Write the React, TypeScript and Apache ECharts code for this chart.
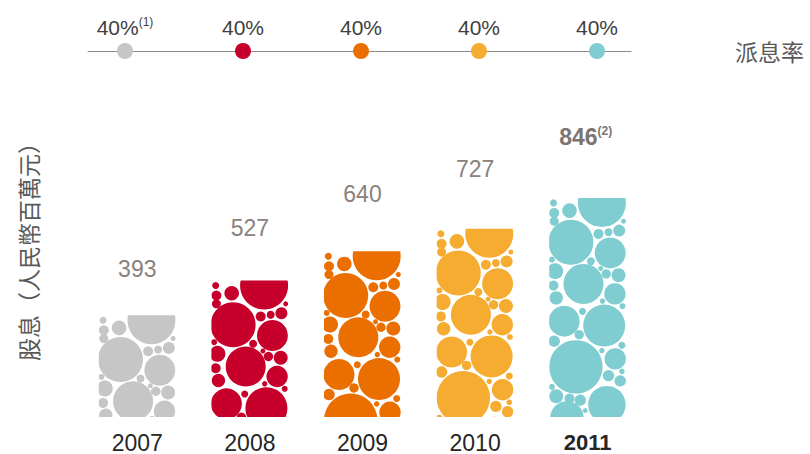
import React, { useEffect, useRef } from 'react';
import * as echarts from 'echarts';

// ---- data ----
const years = ['2007', '2008', '2009', '2010', '2011'];
const dividends = [393, 527, 640, 727, 846];
const payoutRatio = [40, 40, 40, 40, 40];
const payoutNotes = ['(1)', '', '', '', ''];
const dividendNotes = ['', '', '', '', '(2)'];
const highlightIndex = 4;

// ---- styles ----
const barColors = ['#c6c6c6', '#c7002b', '#eb6e00', '#f5ac30', '#80cdd1'];
const labelGaps = [46, 53, 57, 60, 61];
const BAR_W = 77;
const LATIN = '"Liberation Sans", Arial, Helvetica, sans-serif';
const CJK = '"Noto Sans CJK TC", "Noto Sans CJK SC", sans-serif';

// decorative bubble texture, relative to a bar's top-left corner: [cx, cy, r]
const BUBBLES: number[][] = [
  [52.7, 5, 24], [21.7, 44.3, 22.5], [61, 55, 15.5], [34.3, 86, 20], [65.7, 96, 10.7],
  [15, 123.3, 15.5], [55, 127.7, 21], [26.7, 169, 26.7], [66, 161, 10.7],
  [57.7, 206.7, 18.7], [17.7, 220, 16.7],
  [5, 15, 5], [20.3, 12.7, 7.3], [4.3, 5, 3.5], [5, 23.3, 4.5], [49.3, 36, 5],
  [59.3, 34.3, 4], [70, 32.7, 6], [74.3, 23.3, 2.5], [2.7, 61.7, 3], [6, 73.3, 8],
  [4.3, 87.7, 5], [7, 100, 6.7], [41.7, 63.3, 4], [69.3, 77.3, 7], [57, 76, 4.7],
  [51.5, 70.5, 2.5], [73.3, 108.3, 3], [53.3, 103.3, 2.7], [33.3, 113.5, 3.5],
  [30, 136.7, 4.7], [5, 143.3, 5.7], [72.7, 147.3, 3.5], [52.7, 152.7, 2.7],
  [59.3, 177.7, 5.7], [71, 183, 5.7], [72.7, 173.5, 2.8], [2.7, 189, 3],
  [7, 198.3, 7], [20.3, 200.7, 5], [31, 202.3, 5.7], [36, 212.7, 2.5],
];

export default function App() {
  const ref = useRef<HTMLDivElement>(null);

  useEffect(() => {
    if (!ref.current) return;
    document.body.style.margin = '0';
    const chart = echarts.init(ref.current, null, { renderer: 'svg' });

    const option: any = {
      animation: false,
      grid: [
        { left: 81, right: 166, top: 158, bottom: 34 },
        { left: 88, right: 179, top: 51, height: 20 },
      ],
      xAxis: [
        {
          type: 'category',
          gridIndex: 0,
          data: years,
          axisLine: { show: false },
          axisTick: { show: false },
          axisLabel: {
            margin: 14,
            formatter: (val: string, idx: number) =>
              idx === highlightIndex ? `{b|${val}}` : `{n|${val}}`,
            rich: {
              n: { fontSize: 23, color: '#262626', fontFamily: LATIN },
              b: { fontSize: 22, color: '#262626', fontFamily: LATIN, fontWeight: 'bold' },
            },
          },
        },
        {
          type: 'value',
          gridIndex: 1,
          position: 'top',
          min: -0.3136,
          max: 4.288,
          axisLine: { show: true, onZero: false, lineStyle: { color: '#8c8c8c', width: 1 } },
          axisTick: { show: false },
          axisLabel: { show: false },
          splitLine: { show: false },
        },
      ],
      yAxis: [
        { type: 'value', gridIndex: 0, min: 0, max: 1000, show: false },
        { type: 'value', gridIndex: 1, min: 0, max: 40, show: false },
      ],
      series: [
        {
          type: 'custom',
          xAxisIndex: 0,
          yAxisIndex: 0,
          data: years.map((_, i) => [i, dividends[i]]),
          renderItem: (params: any, api: any) => {
            const i = params.dataIndex;
            const v = api.value(1);
            const top = api.coord([api.value(0), v]);
            const base = api.coord([api.value(0), 0]);
            const h = base[1] - top[1];
            const x0 = top[0] - BAR_W / 2;
            const note = dividendNotes[i];
            const bold = i === highlightIndex;
            return {
              type: 'group',
              children: [
                {
                  type: 'group',
                  x: x0,
                  y: top[1],
                  clipPath: { type: 'rect', shape: { x: 0, y: 0, width: BAR_W, height: h } },
                  children: BUBBLES.map(([cx, cy, r]) => ({
                    type: 'circle',
                    shape: { cx, cy, r },
                    style: { fill: barColors[i] },
                  })),
                },
                {
                  type: 'text',
                  x: top[0] - (note ? 2 : 0),
                  y: top[1] - labelGaps[i],
                  style: {
                    text: note ? `{v|${v}}{s|${note}}` : `{v|${v}}`,
                    align: 'center',
                    verticalAlign: 'middle',
                    rich: {
                      v: {
                        fontSize: 23,
                        fontWeight: bold ? 'bold' : 'normal',
                        fontFamily: LATIN,
                        fill: bold ? '#7d746f' : '#8a817c',
                        lineHeight: 24,
                      },
                      s: {
                        fontSize: 12,
                        fontWeight: 'bold',
                        fontFamily: LATIN,
                        fill: '#7d746f',
                        verticalAlign: 'top',
                        lineHeight: 24,
                      },
                    },
                  },
                },
              ],
            };
          },
        },
        {
          type: 'line',
          xAxisIndex: 1,
          yAxisIndex: 1,
          clip: false,
          data: payoutRatio.map((p, i) => ({
            value: [i, p],
            itemStyle: { color: barColors[i], borderWidth: 0 },
          })),
          symbol: 'circle',
          symbolSize: 16,
          lineStyle: { width: 0, opacity: 0 },
          label: {
            show: true,
            position: 'top',
            distance: 5,
            formatter: (p: any) => {
              const note = payoutNotes[p.dataIndex];
              return note ? `{v|${p.value[1]}%}{s|${note}}` : `{v|${p.value[1]}%}`;
            },
            rich: {
              v: { fontSize: 21, color: '#404040', fontFamily: LATIN, lineHeight: 22 },
              s: { fontSize: 12, color: '#404040', fontFamily: LATIN, verticalAlign: 'top', lineHeight: 22 },
            },
          },
        },
      ],
      graphic: [
        {
          type: 'text',
          x: 28,
          y: 246,
          rotation: Math.PI / 2,
          style: {
            text: '股息（人民幣百萬元）',
            fontSize: 23,
            fontFamily: CJK,
            fill: '#595959',
            align: 'center',
            verticalAlign: 'middle',
          },
        },
        {
          type: 'text',
          left: 735,
          top: 39,
          style: {
            text: '派息率',
            fontSize: 23,
            fontFamily: CJK,
            fill: '#595959',
          },
        },
      ],
    };

    chart.setOption(option);
    return () => chart.dispose();
  }, []);

  return <div ref={ref} style={{ width: 810, height: 454 }} />;
}
